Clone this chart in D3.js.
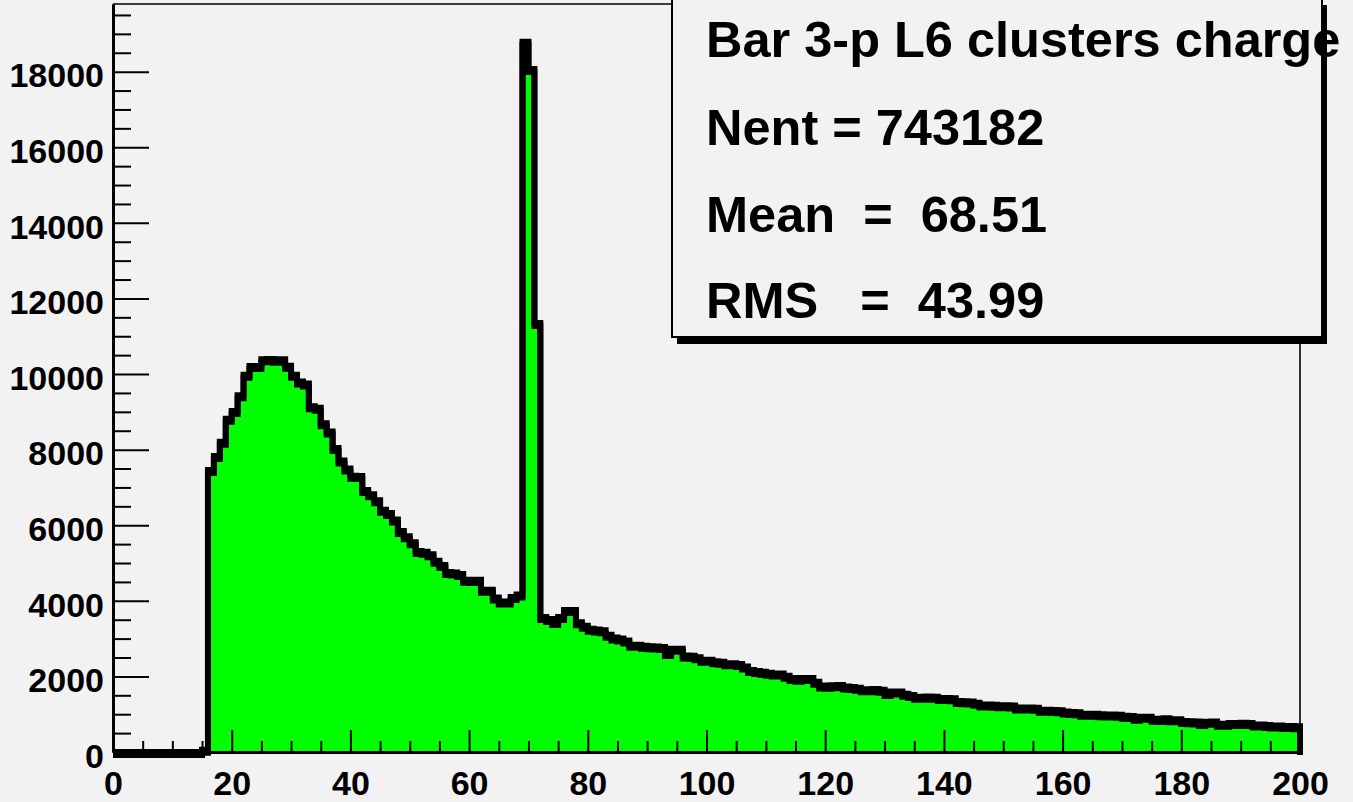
<!DOCTYPE html>
<html><head><meta charset="utf-8">
<script src="https://cdn.jsdelivr.net/npm/d3@7"></script>
<style>html,body{margin:0;padding:0;background:#f2f2f2;overflow:hidden}</style>
</head><body><svg id="c" width="1353" height="802"></svg>
<script>
// Histogram bin contents, bins of width 1 from 0 to 200 (bin i covers [i, i+1))
const counts = [
  0,0,0,0,0,0,0,0,0,0,
  0,0,0,0,0,60,7460,7830,8210,8820,
  9020,9440,9980,10210,10210,10390,10400,10380,10390,10220,
  9980,9800,9750,9150,9110,8700,8480,8040,7710,7500,
  7310,7300,6930,6820,6660,6410,6320,6150,5850,5710,
  5550,5320,5300,5230,5060,4950,4760,4750,4710,4560,
  4550,4560,4290,4290,4090,3980,3980,4100,4170,18790,
  18070,11350,3570,3520,3440,3570,3760,3760,3430,3340,
  3260,3240,3220,3100,3030,3000,2950,2840,2840,2810,
  2795,2790,2780,2620,2730,2730,2550,2545,2510,2440,
  2440,2400,2390,2350,2350,2330,2260,2170,2140,2120,
  2100,2080,2080,2020,1960,1940,1955,1955,1860,1760,
  1750,1765,1770,1730,1720,1700,1660,1660,1670,1650,
  1560,1600,1600,1540,1510,1460,1460,1470,1460,1430,
  1430,1420,1350,1340,1335,1300,1260,1255,1250,1240,
  1240,1230,1180,1175,1175,1170,1120,1115,1110,1105,
  1070,1060,1050,1015,1013,1010,1000,995,990,985,
  960,950,905,935,930,880,875,890,865,865,
  820,815,810,770,800,805,750,745,766,770,
  775,765,730,725,715,700,700,690,685,680
];
const xRange = [0, 200];
const yMax = 19790;
const xTicks = [0,20,40,60,80,100,120,140,160,180,200];
const xMinorStep = 5;
const yTicks = [0,2000,4000,6000,8000,10000,12000,14000,16000,18000];
const yMinorStep = 500;
const statTitle = "Bar 3-p L6 clusters charge";
const statLines = ["Nent = 743182", "Mean  =  68.51", "RMS   =  43.99"];

const svg = d3.select("#c");
const x = d3.scaleLinear().domain(xRange).range([113, 1300]);
const y = d3.scaleLinear().domain([0, yMax]).range([752, 4]);
const FONT = "'Liberation Sans', Arial, Helvetica, sans-serif";

svg.append("rect").attr("width",1353).attr("height",802).attr("fill","#f2f2f2");

// frame (top and right)
svg.append("path")
  .attr("d", `M${x(0)},${y(yMax)}H${x(200)}V${y(0)}`)
  .attr("fill","none").attr("stroke","#000").attr("stroke-width",1.6);

// histogram data points
const pts = counts.map((v,i)=>({b:i, v:v}));
const stepPts = pts.concat([{b:200, v:counts[counts.length-1]}]);

const area = d3.area().curve(d3.curveStepAfter)
  .x(d=>x(d.b)).y0(y(0)).y1(d=>y(d.v));
svg.append("path").datum(stepPts).attr("d", area).attr("fill","#00ff00");

const line = d3.line().curve(d3.curveStepAfter).x(d=>x(d.b)).y(d=>y(d.v));
const outline = stepPts.concat([{b:200, v:0}]);
// thick outline: ROOT's heavy line renders as a band lying on top of the fill
[0, 3].forEach(dy=>{
  svg.append("path").datum(outline)
    .attr("d", line).attr("transform",`translate(0,${dy})`)
    .attr("fill","none").attr("stroke","#000")
    .attr("stroke-width",6).attr("stroke-linejoin","miter");
});

// axes
const yMinor = d3.range(0, yMax, yMinorStep).filter(v=>v%2000!==0);
const xMinor = d3.range(0, 200, xMinorStep).filter(v=>v%20!==0);

const gyMinor = svg.append("g").attr("transform",`translate(${x(0)},0)`)
  .call(d3.axisLeft(y).tickValues(yMinor).tickSize(-18).tickSizeOuter(0).tickFormat(""));
const gy = svg.append("g").attr("transform",`translate(${x(0)},0)`)
  .call(d3.axisLeft(y).tickValues(yTicks).tickSize(-36).tickSizeOuter(0).tickPadding(9).tickFormat(d3.format("d")));
const gxMinor = svg.append("g").attr("transform",`translate(0,${y(0)})`)
  .call(d3.axisBottom(x).tickValues(xMinor).tickSize(-11).tickSizeOuter(0).tickFormat(""));
const gx = svg.append("g").attr("transform",`translate(0,${y(0)})`)
  .call(d3.axisBottom(x).tickValues(xTicks).tickSize(-22).tickSizeOuter(0).tickPadding(19).tickFormat(d3.format("d")));

[gyMinor, gy, gxMinor, gx].forEach(g=>{
  g.selectAll(".tick line").attr("stroke","#000").attr("stroke-width",2);
  g.select(".domain").attr("stroke","#000").attr("stroke-width",3);
  g.selectAll("text").attr("font-family",FONT).attr("font-weight","bold")
    .attr("font-size",34).attr("fill","#000");
});
gy.selectAll("text").attr("dy","0.45em");
gx.selectAll("text").attr("dy","0.71em");

// stats box
const bx = 672, by = -2, bw = 650, bh = 339;
svg.append("rect").attr("x",bx+5).attr("y",by+7).attr("width",bw).attr("height",bh).attr("fill","#000");
svg.append("rect").attr("x",bx).attr("y",by).attr("width",bw).attr("height",bh)
  .attr("fill","#f2f2f2").attr("stroke","#000").attr("stroke-width",2);

const allLines = [statTitle].concat(statLines);
const baselines = [57, 145, 232, 318];
svg.append("g").selectAll("text").data(allLines).join("text")
  .attr("x",706).attr("y",(d,i)=>baselines[i])
  .attr("font-family",FONT).attr("font-weight","bold").attr("font-size",50.5)
  .attr("fill","#000").style("white-space","pre").attr("xml:space","preserve")
  .text(d=>d);
</script></body></html>
